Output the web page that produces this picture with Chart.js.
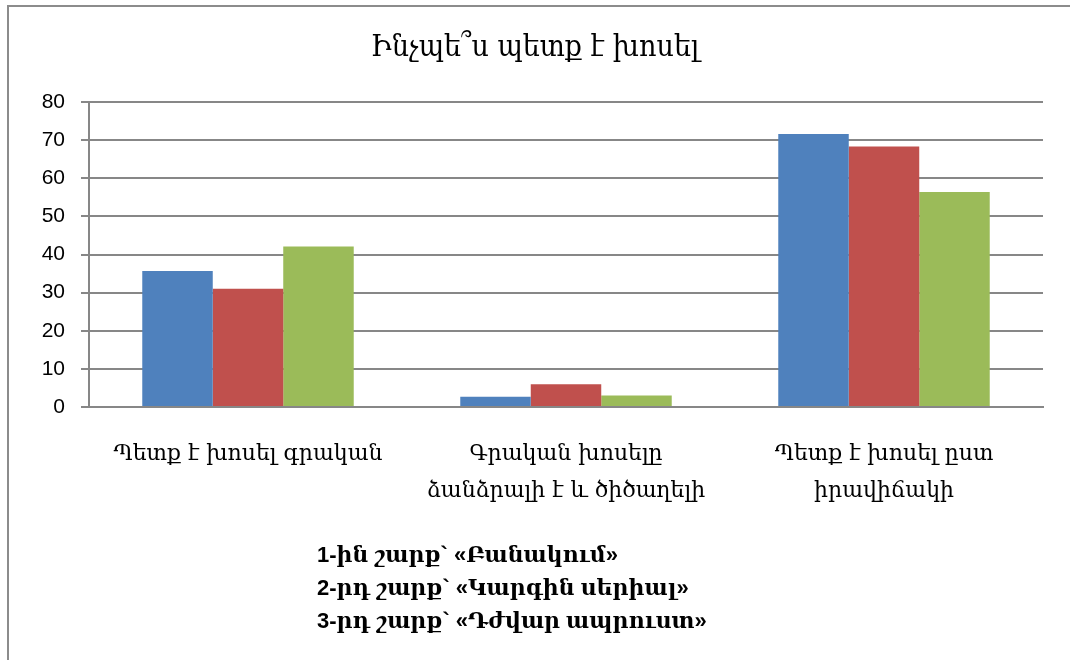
<!DOCTYPE html>
<html>
<head>
<meta charset="utf-8">
<script src="https://cdn.jsdelivr.net/npm/chart.js@4.4.0/dist/chart.umd.min.js"></script>
<style>
    body { margin: 0; background: #fff; }
    #wrap { position: relative; width: 1070px; height: 660px; overflow: hidden; }
    #grafico { position: absolute; left: 0; top: 0; }
    #marco { position: absolute; left: 7px; top: 5px; width: 1070px; height: 660px;
             border-left: 2px solid #8c8c8c; border-top: 2px solid #8c8c8c; }
    #titulo { position: absolute; left: 0; width: 1070px; top: 28px; text-align: center;
              font-family: 'DejaVu Serif Condensed', 'DejaVu Serif', serif; font-size: 30px; line-height: 36px; color: #000; }
    #leyenda { position: absolute; left: 317px; top: 538px; font-family: 'Liberation Sans', 'DejaVu Serif', serif;
               font-weight: bold; font-size: 22px; line-height: 33px; color: #000; }
</style>
</head>
<body>
<div id="wrap">
    <canvas id="grafico" width="1070" height="660"></canvas>
    <div id="marco"></div>
    <div id="titulo"></div>
    <div id="leyenda"></div>
</div>
<script>
    // Datos del gráfico
    const categorias = [
        'Պետք է խոսել գրական',
        ['Գրական խոսելը', 'ձանձրալի է և ծիծաղելի'],
        ['Պետք է խոսել ըստ', 'իրավիճակի']
    ];
    const serie1 = [35.7, 2.7, 71.6];
    const serie2 = [31.0, 6.0, 68.3];
    const serie3 = [42.1, 3.0, 56.4];
    const nombresSeries = ['Բանակում', 'Կարգին սերիալ', 'Դժվար ապրուստ'];
    const lineasLeyenda = ['1-ին շարք`  «Բանակում»', '2-րդ շարք` «Կարգին սերիալ»', '3-րդ շարք` «Դժվար ապրուստ»'];
    const titulo = 'Ինչպե՞ս պետք է խոսել';

    // Título y leyenda como texto
    document.getElementById('titulo').textContent = titulo;
    document.getElementById('leyenda').innerHTML = lineasLeyenda.map(l => '<div>' + l + '</div>').join('');

    const gris = '#878787';

    new Chart(document.getElementById('grafico').getContext('2d'), {
        type: 'bar',
        data: {
            labels: categorias,
            datasets: [
                { label: nombresSeries[0], data: serie1, backgroundColor: '#4F81BD' },
                { label: nombresSeries[1], data: serie2, backgroundColor: '#C0504D' },
                { label: nombresSeries[2], data: serie3, backgroundColor: '#9BBB59' }
            ]
        },
        options: {
            responsive: false,
            animation: false,
            layout: { padding: { left: 0, right: 27, top: 102, bottom: 0 } },
            datasets: { bar: { categoryPercentage: 0.665, barPercentage: 1.0 } },
            plugins: {
                legend: { display: false },
                tooltip: { enabled: false }
            },
            scales: {
                x: {
                    grid: { display: false },
                    border: { display: true, color: gris, width: 2 },
                    ticks: {
                        color: '#000',
                        maxRotation: 0,
                        autoSkip: false,
                        padding: 21,
                        font: { family: 'DejaVu Serif', size: 22, lineHeight: 1.68 }
                    },
                    afterFit: function(scale) { scale.height = 253; }
                },
                y: {
                    min: 0,
                    max: 80,
                    ticks: {
                        stepSize: 10,
                        color: '#000',
                        padding: 16,
                        font: { family: 'Liberation Sans', size: 21 }
                    },
                    grid: { color: gris, lineWidth: 2, tickLength: 8 },
                    border: { display: true, color: gris, width: 2 },
                    afterFit: function(scale) { scale.width = 89; }
                }
            }
        }
    });
</script>
</body>
</html>
